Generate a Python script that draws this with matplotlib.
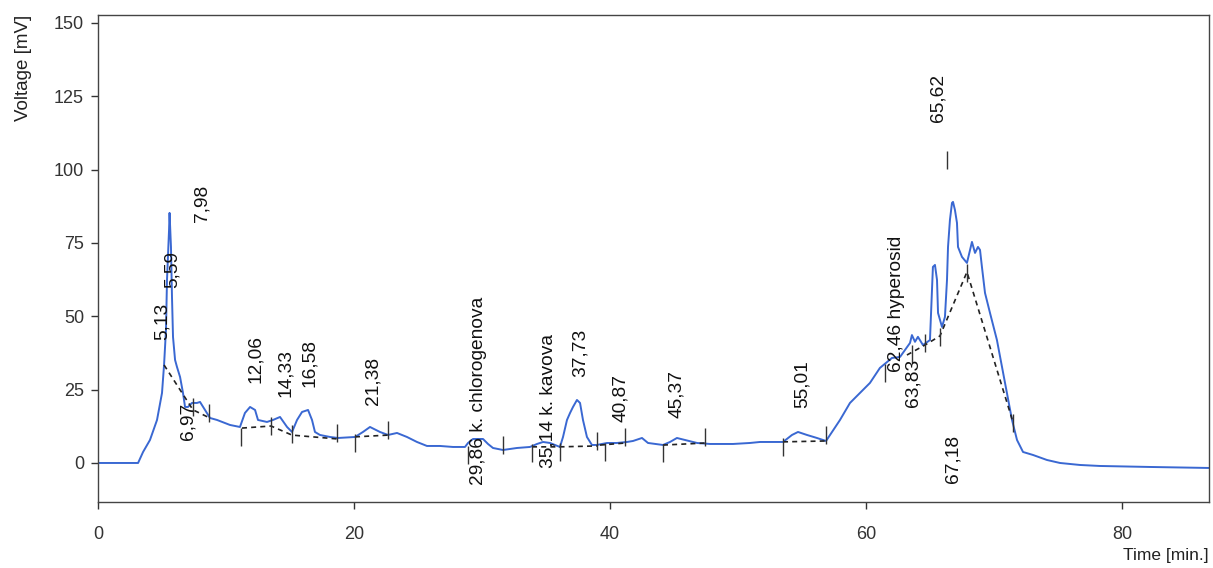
import matplotlib.pyplot as plt

plt.rcParams['font.family'] = ['Liberation Sans', 'DejaVu Sans']

# chromatogram trace (time in min, voltage in mV)
time = [0, 3.13, 3.52, 4.06, 4.61, 5.0, 5.16, 5.31, 5.39, 5.55, 5.59, 5.70, 5.78, 5.86,
        6.02, 6.17, 6.41, 6.64, 6.80, 7.03, 7.34, 7.73, 7.97, 8.36, 8.75, 9.30, 10.31,
        11.09, 11.48, 11.88, 12.27, 12.5, 13.20, 13.67, 14.22, 14.77, 15.16, 15.55,
        15.94, 16.41, 16.72, 16.95, 17.34, 18.13, 18.75, 20.08, 20.70, 21.25, 22.03,
        22.66, 23.36, 24.14, 24.92, 25.70, 26.72, 27.73, 28.67, 28.91, 29.30, 30.08,
        30.47, 30.86, 31.64, 32.73, 33.75, 34.30, 34.77, 35.31, 36.09, 36.33, 36.64,
        36.88, 37.11, 37.42, 37.66, 37.89, 38.20, 38.59, 38.98, 39.77, 40.55, 41.33,
        41.80, 42.50, 42.97, 44.14, 44.69, 45.23, 45.86, 46.80, 47.81, 49.61, 50.94,
        51.72, 52.73, 53.52, 54.22, 54.69, 55.39, 56.17, 56.88, 57.19, 57.97, 58.75,
        59.53, 60.31, 61.09, 61.64, 62.03, 62.66, 63.05, 63.44, 63.59, 63.83, 64.06,
        64.45, 65.0, 65.23, 65.39, 65.55, 65.63, 65.94, 66.17, 66.33, 66.41, 66.56,
        66.72, 66.80, 66.95, 67.11, 67.19, 67.5, 67.89, 68.13, 68.28, 68.52, 68.75,
        68.91, 69.06, 69.30, 69.69, 70.23, 70.63, 71.02, 71.41, 71.80, 72.27, 73.05,
        74.14, 75.16, 76.72, 78.28, 82.19, 86.8]
voltage = [0, 0, 3.75, 7.84, 14.66, 23.87, 33.41, 45.35, 62.39, 79.44, 85.24, 73.64,
           56.60, 42.96, 35.12, 32.73, 29.32, 23.87, 19.09, 19.09, 20.46, 20.46, 20.80,
           18.07, 15.34, 14.66, 12.96, 12.27, 17.05, 19.09, 18.07, 14.66, 13.98, 14.66,
           15.68, 12.27, 10.57, 14.66, 17.39, 18.07, 14.66, 10.57, 9.55, 8.86, 8.52,
           8.86, 10.57, 12.27, 10.57, 9.55, 10.23, 8.86, 7.16, 5.80, 5.80, 5.46, 5.46,
           6.82, 8.18, 8.18, 6.48, 5.11, 4.43, 5.11, 5.46, 6.48, 7.16, 6.82, 5.46, 8.86,
           14.66, 17.05, 19.09, 21.48, 20.46, 14.66, 8.86, 6.14, 6.14, 6.82, 6.82, 7.16,
           7.50, 8.52, 6.82, 6.14, 7.16, 8.52, 7.84, 6.82, 6.48, 6.48, 6.82, 7.16, 7.16,
           7.16, 9.55, 10.57, 9.55, 8.52, 7.50, 9.55, 14.66, 20.46, 23.87, 27.28, 32.4,
           34.4, 35.8, 36.14, 38.53, 40.91, 43.6, 41.3, 43.0, 40.2, 41.9, 66.83, 67.51,
           62.39, 51.14, 46.37, 49.78, 62.39, 73.64, 82.85, 88.65, 88.99, 86.26, 81.83,
           73.64, 70.24, 68.19, 72.62, 75.35, 71.60, 73.64, 72.62, 66.83, 57.96, 51.14,
           41.94, 32.73, 23.87, 14.66, 7.84, 3.75, 2.73, 1.02, 0, -0.68, -1.02, -1.36,
           -1.70]

# integration baselines (dashed)
baselines = [
    ([5.16, 7.42, 8.75], [33.4, 18.1, 15.3]),
    ([11.25, 13.52, 15.16, 18.67], [11.9, 12.6, 9.5, 8.2]),
    ([20.08, 22.66], [8.9, 9.5]),
    ([33.91, 36.09, 38.98], [5.5, 5.5, 5.8]),
    ([39.22, 41.17], [6.1, 6.8]),
    ([44.14, 47.42], [6.1, 6.8]),
    ([53.52, 56.88], [7.2, 7.5]),
    ([63.2, 64.61, 65.78, 67.89, 71.48], [36.8, 40.2, 43.3, 65.1, 14.0]),
]

# peak start/end markers
mark_t = [7.42, 8.67, 11.17, 13.52, 15.16, 18.67, 20.08, 22.66, 28.9, 31.64, 33.91,
          36.09, 38.98, 39.61, 41.17, 44.14, 47.42, 53.52, 56.88, 61.48, 63.59,
          64.61, 65.78, 66.33, 67.89, 71.48]
mark_v = [19.1, 17.0, 8.9, 12.6, 9.9, 10.2, 6.8, 11.3, 2.7, 6.1, 3.4, 3.8, 7.5, 3.8,
          8.9, 3.4, 8.9, 5.5, 9.5, 30.7, 37.2, 40.9, 43.0, 103.3, 64.8, 13.6]

# peak labels
label_text = ['5,13', '5,59', '7,98', '12,06', '14,33', '16,58', '21,38',
              '29,86 k. chlorogenova', '35,14 k. kavova', '37,73', '40,87', '45,37',
              '55,01', '62,46 hyperosid', '63,83', '65,62', '67,18']
label_t = [5.0, 5.78, 8.13, 12.34, 14.61, 16.56, 21.48, 29.69, 35.16, 37.66, 40.86,
           45.23, 55.0, 62.42, 63.67, 65.63, 66.8]
label_v = [41.9, 59.7, 82.2, 27.3, 22.5, 25.9, 19.8, -7.5, -1.7, 29.3, 14.0, 15.3,
           18.75, 31.0, 19.1, 116.3, -6.8]

fig = plt.figure(figsize=(12.13, 5.68), dpi=100)
ax = fig.add_axes([0.0808, 0.1162, 0.9159, 0.8574])

ax.plot(time, voltage, color='#3a68d2', lw=1.4)
for bt, bv in baselines:
    ax.plot(bt, bv, color='#222222', lw=1.2, ls=(0, (3, 2.5)))
ax.vlines(mark_t, [v - 3 for v in mark_v], [v + 3 for v in mark_v], color='#333333', lw=1)

for s, t, v in zip(label_text, label_t, label_v):
    ax.text(t, v, s, rotation=90, ha='center', va='bottom', fontsize=13.8, color='#111111')
ax.text(7.03, 20.5, '6,97', rotation=90, ha='center', va='top', fontsize=13.8, color='#111111')

ax.set_xlim(0, 86.8)
ax.set_ylim(-13.3, 152.7)
ax.set_xticks([0, 20, 40, 60, 80])
ax.set_yticks([0, 25, 50, 75, 100, 125, 150])
ax.tick_params(labelsize=13, colors='#333333', length=5, width=1, pad=5)
ax.tick_params(axis='x', pad=12)
for sp in ax.spines.values():
    sp.set_color('#444444')
    sp.set_linewidth(1)
ax.set_xlabel('Time [min.]', loc='right', fontsize=12.5, color='#222222', labelpad=4)
ax.set_ylabel('Voltage [mV]', loc='top', fontsize=13.5, color='#222222', labelpad=16)

fig.savefig('out.png', dpi=100)
